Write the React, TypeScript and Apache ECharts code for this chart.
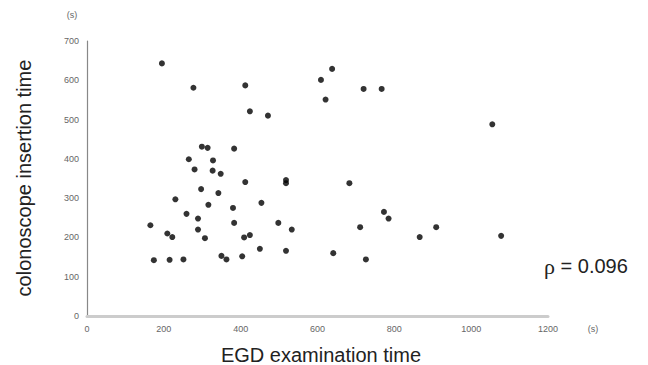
import React, { useEffect, useRef } from "react";
import * as echarts from "echarts";

const egdTime: number[] = [
  195, 277, 412, 638, 609, 621, 424, 471, 299, 314, 383, 265, 328, 280, 327, 348,
  412, 518, 518, 297, 342, 230, 454, 316, 380, 259, 289, 165, 383, 498, 289, 533,
  209, 222, 307, 409, 424, 450, 518, 641, 174, 215, 251, 350, 363, 404, 720, 767,
  1055, 683, 773, 785, 711, 909, 866, 1078, 726,
];
const insertionTime: number[] = [
  643, 581, 587, 629, 601, 551, 521, 510, 431, 428, 426, 399, 396, 373, 370, 362,
  341, 346, 338, 323, 313, 297, 288, 283, 275, 260, 248, 231, 237, 237, 220, 220,
  210, 201, 198, 200, 206, 171, 166, 160, 142, 143, 144, 153, 144, 152, 578, 578,
  488, 338, 265, 248, 226, 226, 201, 204, 144,
];
const xTicks = { min: 0, max: 1200, interval: 200 };
const yTicks = { min: 0, max: 700, interval: 100 };
const xTitle = "EGD examination time";
const yTitle = "colonoscope insertion time";
const unitLabel = "(s)";
const rhoSymbol = "\u03c1";
const rhoValue = " = 0.096";

const FONT = "'Liberation Sans', Arial, 'Noto Sans', sans-serif";

export default function App() {
  const ref = useRef<HTMLDivElement>(null);
  useEffect(() => {
    document.body.style.margin = "0";
    if (!ref.current) return;
    const chart = echarts.init(ref.current, undefined, { renderer: "svg" });
    const data = egdTime.map((x, i) => [x, insertionTime[i]]);
    chart.setOption({
      animation: false,
      backgroundColor: "#ffffff",
      grid: { left: 87, right: 100, top: 41, bottom: 49, containLabel: false },
      xAxis: {
        type: "value",
        min: xTicks.min,
        max: xTicks.max,
        interval: xTicks.interval,
        splitLine: { show: false },
        axisTick: { show: false },
        axisLine: { show: true, lineStyle: { color: "#cccccc", width: 3 } },
        axisLabel: {
          color: "#666",
          fontSize: 9,
          fontFamily: FONT,
          margin: 8,
          formatter: (v: number) => String(v),
        },
      },
      yAxis: {
        type: "value",
        min: yTicks.min,
        max: yTicks.max,
        interval: yTicks.interval,
        splitLine: { show: false },
        axisTick: { show: false },
        axisLine: { show: true, lineStyle: { color: "#888888", width: 1.2 } },
        axisLabel: {
          color: "#666",
          fontSize: 9,
          fontFamily: FONT,
          margin: 8,
          formatter: (v: number) => String(v),
        },
      },
      series: [
        {
          type: "scatter",
          data,
          symbol: "circle",
          symbolSize: 6,
          itemStyle: { color: "#000000" },
        },
      ],
      graphic: [
        {
          type: "text",
          x: 72,
          y: 15,
          style: { text: unitLabel, fill: "#666", font: `9px ${FONT}`, align: "center", verticalAlign: "middle" },
        },
        {
          type: "text",
          x: 593,
          y: 329,
          style: { text: unitLabel, fill: "#666", font: `9px ${FONT}`, align: "center", verticalAlign: "middle" },
        },
        {
          type: "text",
          x: 321,
          y: 355,
          style: { text: xTitle, fill: "#222", font: `20px ${FONT}`, align: "center", verticalAlign: "middle" },
        },
        {
          type: "text",
          x: 24,
          y: 178,
          rotation: Math.PI / 2,
          style: { text: yTitle, fill: "#222", font: `20px ${FONT}`, align: "center", verticalAlign: "middle" },
        },
        {
          type: "text",
          x: 544,
          y: 266,
          style: {
            text: `{r|${rhoSymbol}}{v|${rhoValue}}`,
            align: "left",
            verticalAlign: "middle",
            rich: {
              r: { fontFamily: "'Liberation Serif', 'DejaVu Serif', serif", fontSize: 22, fill: "#222", color: "#222" },
              v: { fontFamily: FONT, fontSize: 20, fill: "#222", color: "#222" },
            },
          },
        },
      ],
    });
    return () => chart.dispose();
  }, []);
  return <div ref={ref} style={{ width: 648, height: 365 }} />;
}
